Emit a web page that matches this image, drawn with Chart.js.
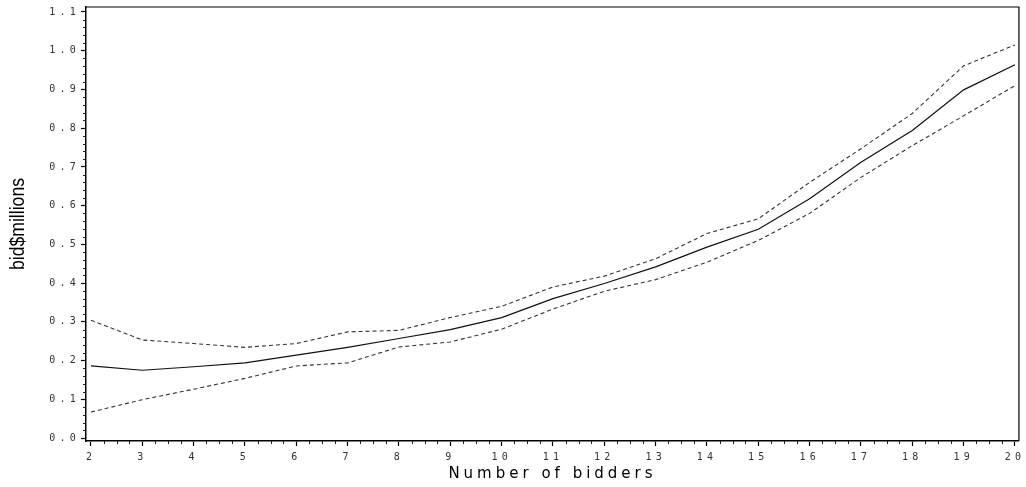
<!DOCTYPE html>
<html>
<head>
<meta charset="utf-8">
<script src="https://cdn.jsdelivr.net/npm/chart.js@4.4.1/dist/chart.umd.min.js"></script>
<style>
  html, body { margin: 0; padding: 0; background: #fff; }
  #wrap { width: 1026px; height: 487px; }
</style>
</head>
<body>
<div id="wrap"><canvas id="bidChart"></canvas></div>
<script>
const bidders = [2, 3, 4, 5, 6, 7, 8, 9, 10, 11, 12, 13, 14, 15, 16, 17, 18, 19, 20];
const fitted = [0.186, 0.175, 0.184, 0.194, 0.214, 0.234, 0.257, 0.280, 0.311, 0.360, 0.399, 0.442, 0.493, 0.539, 0.618, 0.712, 0.794, 0.899, 0.964];
const upper  = [0.304, 0.253, 0.244, 0.234, 0.244, 0.274, 0.278, 0.311, 0.340, 0.390, 0.418, 0.463, 0.528, 0.566, 0.660, 0.747, 0.838, 0.961, 1.015];
const lower  = [0.067, 0.099, 0.126, 0.154, 0.186, 0.194, 0.235, 0.248, 0.281, 0.333, 0.379, 0.409, 0.454, 0.510, 0.580, 0.673, 0.755, 0.832, 0.910];
const xTicks = bidders;
const yTicks = [0, 0.1, 0.2, 0.3, 0.4, 0.5, 0.6, 0.7, 0.8, 0.9, 1.0, 1.1];

const pts = arr => bidders.map((b, i) => ({ x: b, y: arr[i] }));

// SAS-style wide lettering for tick labels and the x title, narrow y title
const spacing = {
  id: "spacing",
  beforeDraw(chart) {
    Object.values(chart.scales).forEach(s => {
      if (s._spaced) return;
      s._spaced = true;
      const isX = s.axis === "x";
      const drawLabels = s.drawLabels.bind(s);
      const drawTitle = s.drawTitle.bind(s);
      s.drawLabels = function (area) {
        const c = this.ctx; c.save(); c.letterSpacing = "4.2px"; drawLabels(area); c.restore();
      };
      s.drawTitle = function (area) {
        const c = this.ctx; c.save();
        if (isX) {
          c.letterSpacing = "4px";
        } else {
          // squeeze the rotated title along its length
          const cy = (this.top + this.bottom) / 2;
          c.translate(0, cy); c.scale(1, 0.88); c.translate(0, -cy);
        }
        drawTitle(area); c.restore();
      };
    });
  }
};

// top/right frame and minor ticks
const frame = {
  id: "frame",
  afterDraw(chart) {
    const { ctx, chartArea: a, scales: { x, y } } = chart;
    ctx.save();
    ctx.strokeStyle = "#000";
    ctx.lineWidth = 1.2;
    ctx.beginPath();
    ctx.moveTo(a.left, a.top);
    ctx.lineTo(a.right, a.top);
    ctx.lineTo(a.right, a.bottom);
    ctx.stroke();

    ctx.lineWidth = 1;
    ctx.strokeStyle = "#222";
    ctx.beginPath();
    for (let i = 0; i < xTicks.length - 1; i++) {
      for (let k = 1; k < 4; k++) {
        const px = Math.round(x.getPixelForValue(xTicks[i] + k * 0.25)) + 0.5;
        ctx.moveTo(px, a.bottom);
        ctx.lineTo(px, a.bottom + 3);
      }
    }
    for (let i = 0; i < yTicks.length - 1; i++) {
      for (let k = 1; k < 5; k++) {
        const py = Math.round(y.getPixelForValue(yTicks[i] + k * 0.02)) + 0.5;
        ctx.moveTo(a.left - 3, py);
        ctx.lineTo(a.left, py);
      }
    }
    ctx.stroke();
    ctx.restore();
  }
};

const tickFont = { family: "'DejaVu Sans Mono', monospace", size: 10 };

new Chart(document.getElementById("bidChart"), {
  type: "line",
  data: {
    datasets: [
      { data: pts(upper), borderColor: "#333", borderWidth: 1.1, borderDash: [4, 3], pointRadius: 0, tension: 0 },
      { data: pts(fitted), borderColor: "#111", borderWidth: 1.2, pointRadius: 0, tension: 0 },
      { data: pts(lower), borderColor: "#333", borderWidth: 1.1, borderDash: [4, 3], pointRadius: 0, tension: 0 }
    ]
  },
  options: {
    responsive: true,
    maintainAspectRatio: false,
    animation: false,
    layout: { padding: { top: 6, right: 5, left: 0, bottom: 0 } },
    plugins: { legend: { display: false }, tooltip: { enabled: false } },
    scales: {
      x: {
        type: "linear",
        min: 1.9028,
        max: 20.0778,
        afterBuildTicks: s => { s.ticks = xTicks.map(v => ({ value: v })); },
        afterFit: s => { s.height = 46; },
        grid: { drawOnChartArea: false, tickLength: 5, color: "#000", tickWidth: 1.2 },
        border: { color: "#000", width: 1.5 },
        ticks: { font: tickFont, color: "#333", padding: 5, maxRotation: 0, autoSkip: false, callback: v => String(v) },
        title: {
          display: true,
          text: "Number of bidders",
          font: { family: "'DejaVu Sans', sans-serif", size: 15 },
          color: "#000",
          padding: { top: 0, bottom: 4 }
        }
      },
      y: {
        min: -0.00773,
        max: 1.1129,
        afterBuildTicks: s => { s.ticks = yTicks.map(v => ({ value: v })); },
        afterFit: s => { s.width = 86; },
        grid: { drawOnChartArea: false, tickLength: 5, color: "#000", tickWidth: 1.2 },
        border: { color: "#000", width: 1.5 },
        ticks: { font: tickFont, color: "#333", padding: 1, autoSkip: false, callback: v => v.toFixed(1) },
        title: {
          display: true,
          text: "bid$millions",
          font: { family: "'Liberation Sans', sans-serif", size: 20 },
          color: "#000",
          padding: { top: 6, bottom: 0 }
        }
      }
    }
  },
  plugins: [spacing, frame]
});
</script>
</body>
</html>
